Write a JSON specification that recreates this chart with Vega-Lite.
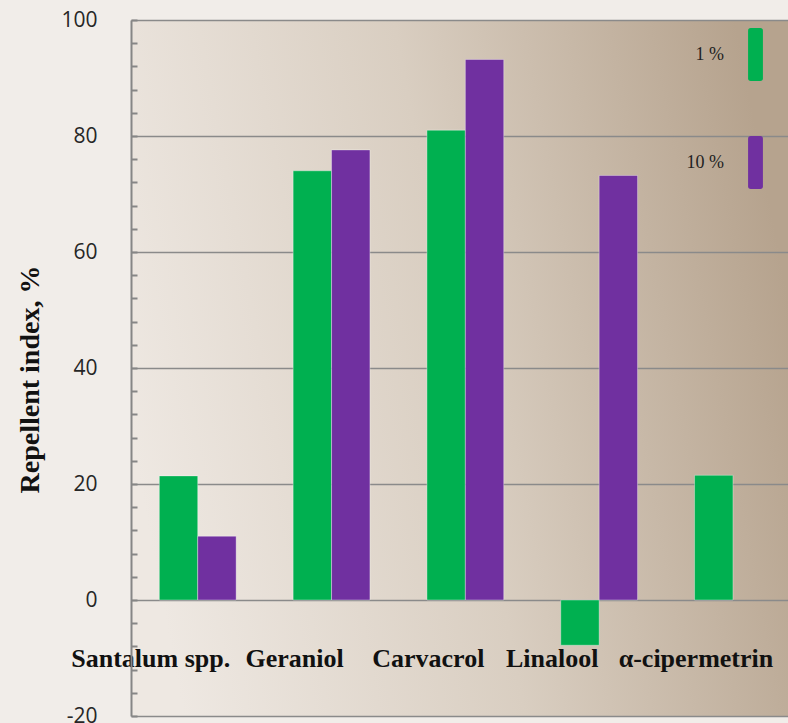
{
  "$schema": "https://vega.github.io/schema/vega-lite/v6.json",
  "width": 657,
  "height": 696,
  "autosize": {"type": "none"},
  "padding": {"left": 131, "top": 20, "right": 0, "bottom": 7},
  "background": "#f1ede9",
  "config": {
    "view": {
      "stroke": null,
      "fill": {
        "gradient": "linear",
        "x1": 0, "y1": 0.6, "x2": 1, "y2": 0.4,
        "stops": [
          {"offset": 0, "color": "#eee8e2"},
          {"offset": 0.5, "color": "#d9cec1"},
          {"offset": 1, "color": "#b6a38e"}
        ]
      }
    }
  },
  "data": {
    "values": [
      {"compound": "Santalum spp.", "series": "1 %", "value": 21.4},
      {"compound": "Santalum spp.", "series": "10 %", "value": 11.0},
      {"compound": "Geraniol", "series": "1 %", "value": 74.0},
      {"compound": "Geraniol", "series": "10 %", "value": 77.6},
      {"compound": "Carvacrol", "series": "1 %", "value": 81.0},
      {"compound": "Carvacrol", "series": "10 %", "value": 93.2},
      {"compound": "Linalool", "series": "1 %", "value": -7.8},
      {"compound": "Linalool", "series": "10 %", "value": 73.2},
      {"compound": "α-cipermetrin", "series": "1 %", "value": 21.5}
    ]
  },
  "mark": {"type": "bar", "stroke": "#ffffff", "strokeOpacity": 0.35, "strokeWidth": 1},
  "encoding": {
    "x": {
      "field": "compound",
      "type": "nominal",
      "sort": ["Santalum spp.", "Geraniol", "Carvacrol", "Linalool", "α-cipermetrin"],
      "scale": {"paddingInner": 0.426, "paddingOuter": 0.168, "align": 0.63},
      "axis": {
        "title": null,
        "domain": false,
        "ticks": false,
        "labelAngle": 0,
        "labelFont": "Liberation Serif",
        "labelFontWeight": "bold",
        "labelFontSize": 26,
        "labelColor": "#111111",
        "labelBaseline": "alphabetic",
        "labelPadding": -50,
        "labelOffset": {"condition": {"test": "datum.value === 'Santalum spp.' || datum.value === 'Linalool'", "value": -47}, "value": -37},
        "labelOverlap": false,
        "labelLimit": 0
      }
    },
    "xOffset": {"field": "series", "sort": ["1 %", "10 %"]},
    "y": {
      "field": "value",
      "type": "quantitative",
      "scale": {"domain": [-20, 100], "nice": false, "zero": false},
      "axis": {
        "title": "Repellent index, %",
        "titleFont": "Liberation Serif",
        "titleFontWeight": "bold",
        "titleFontSize": 28,
        "titleColor": "#111111",
        "titleX": -101,
        "titleY": 359,
        "titleBaseline": "middle",
        "titleAngle": 270,
        "values": [-20, -16, -12, -8, -4, 0, 4, 8, 12, 16, 20, 24, 28, 32, 36, 40, 44, 48, 52, 56, 60, 64, 68, 72, 76, 80, 84, 88, 92, 96, 100],
        "labelExpr": "datum.value % 20 === 0 ? '' + datum.value : ''",
        "labelFont": "Open Sans",
        "labelFontSize": 21,
        "labelColor": "#262626",
        "labelPadding": 40,
        "domainColor": "#868686",
        "domainWidth": 2,
        "tickColor": "#868686",
        "tickWidth": 2,
        "tickSize": -6,
        "grid": true,
        "gridColor": {"condition": {"test": "datum.value % 20 === 0", "value": "#8a8a8a"}, "value": "transparent"},
        "gridWidth": 1.5
      }
    },
    "color": {
      "field": "series",
      "type": "nominal",
      "scale": {"domain": ["1 %", "10 %"], "range": ["#00b050", "#7030a0"]},
      "legend": {
        "title": null,
        "orient": "none",
        "legendX": 598,
        "legendY": 8,
        "padding": 0,
        "symbolType": "M-0.28,-0.9 Q-0.28,-1 -0.18,-1 L0.18,-1 Q0.28,-1 0.28,-0.9 L0.28,0.9 Q0.28,1 0.18,1 L-0.18,1 Q-0.28,1 -0.28,0.9 Z",
        "symbolSize": 2809,
        "symbolStrokeWidth": 0,
        "symbolOpacity": 1,
        "labelAlign": "right",
        "labelOffset": -58,
        "labelFont": "Liberation Serif",
        "labelFontSize": 18,
        "labelColor": "#222222",
        "rowPadding": 55
      }
    }
  }
}
